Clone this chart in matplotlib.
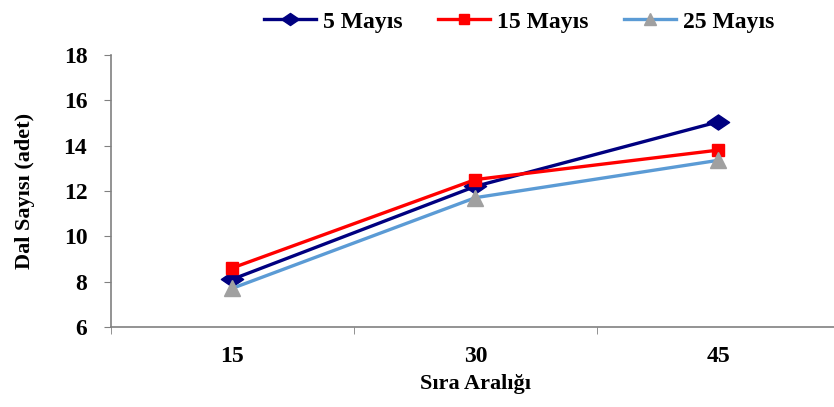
import matplotlib
matplotlib.use("Agg")
import matplotlib.pyplot as plt
from matplotlib.path import Path

categories = ["15", "30", "45"]
may5 = [8.1, 12.2, 15.05]
may15 = [8.6, 12.5, 13.8]
may25 = [7.7, 11.7, 13.35]
series_names = ["5 Mayıs", "15 Mayıs", "25 Mayıs"]

plt.rcParams["font.family"] = ["Liberation Serif", "DejaVu Serif"]
plt.rcParams["font.weight"] = "bold"

# wide diamond like the original
wide_diamond = Path([(-1.25, 0), (0, 0.85), (1.25, 0), (0, -0.85), (-1.25, 0)],
                    [Path.MOVETO, Path.LINETO, Path.LINETO, Path.LINETO, Path.CLOSEPOLY])

fig = plt.figure(figsize=(8.34, 4.07), dpi=100)
ax = fig.add_axes([0.133, 0.197, 0.874, 0.668])

x = range(len(categories))
ax.plot(x, may5, color="#000080", lw=2.4, marker=wide_diamond, ms=16,
        markerfacecolor="#000080", markeredgecolor="#000080", label=series_names[0])
ax.plot(x, may15, color="#ff0000", lw=2.4, marker="s", ms=9,
        markerfacecolor="#ff0000", markeredgecolor="#ff0000", label=series_names[1])
ax.plot(x, may25, color="#5b9bd5", lw=2.4, marker="^", ms=11,
        markerfacecolor="#a0a0a0", markeredgecolor="#a0a0a0", label=series_names[2])

ax.set_xlim(-0.5, 2.5)
ax.set_ylim(6, 18)
ax.set_yticks(range(6, 19, 2))
ax.set_xticks(list(x))
ax.set_xticklabels(categories)
ax.set_xticks([-0.5, 0.5, 1.5, 2.5], minor=True)
ax.tick_params(axis="x", which="major", length=0, pad=14, labelsize=17)
ax.tick_params(axis="x", which="minor", length=5, color="#808080")
ax.tick_params(axis="y", length=5, color="#808080", labelsize=17, pad=12)

for s in ["top", "right"]:
    ax.spines[s].set_visible(False)
for s in ["left", "bottom"]:
    ax.spines[s].set_color("#808080")
    ax.spines[s].set_linewidth(1.2)

ax.set_xlabel("Sıra Aralığı", fontsize=16, fontweight="bold", labelpad=5)
ax.set_ylabel("Dal Sayısı (adet)", fontsize=16, fontweight="bold")
ax.yaxis.set_label_coords(-0.104, 0.5)

fig.legend(loc="upper center", bbox_to_anchor=(0.623, 1.025), ncol=3, frameon=False,
           fontsize=17, handlelength=2.2, columnspacing=1.5, handletextpad=0.3,
           markerscale=0.8)

fig.savefig("out.png", dpi=100)
